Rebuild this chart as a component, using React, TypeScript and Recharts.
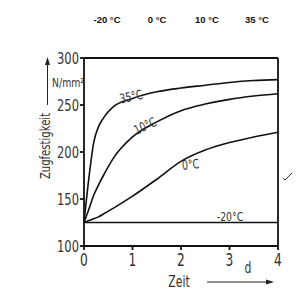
import React from "react";
import { LineChart, Line, XAxis, YAxis, ReferenceLine } from "recharts";

const zeit = [0, 0.1, 0.2, 0.3, 0.4, 0.6, 1, 1.5, 2, 2.5, 3, 3.5, 4];
const t35 = [125, 172, 210, 227, 236, 248, 257, 264, 268, 271, 274, 276, 277];
const t10 = [125, 139, 154, 165, 175, 193, 216, 232, 244, 251, 256, 259.5, 262];
const t0 = [125, 127, 129, 131, 134, 140, 153, 171, 190, 202, 210, 216, 221];
const tMinus20 = [125, 125, 125, 125, 125, 125, 125, 125, 125, 125, 125, 125, 125];

const yTicks = [100, 150, 200, 250, 300];
const xTicks = [0, 1, 2, 3, 4];
const topLabels = ["-20 °C", "0 °C", "10 °C", "35 °C"];

const data = zeit.map((t, i) => ({
  t,
  c35: t35[i],
  c10: t10[i],
  c0: t0[i],
  cm20: tMinus20[i],
}));

const font = "'DejaVu Sans', sans-serif";

// squeezed text, the scan uses a condensed typeface
function Narrow({ x, y, size, anchor = "start", rotate = 0, children }: any) {
  return (
    <text
      transform={`translate(${x} ${y}) rotate(${rotate}) scale(0.72 1)`}
      textAnchor={anchor}
      fontSize={size}
      fontFamily={font}
      fill="#333"
    >
      {children}
    </text>
  );
}

const XTick = ({ x, y, payload }: any) => (
  <Narrow x={x} y={y + 15} size={17} anchor="middle">{payload.value}</Narrow>
);

const YTick = ({ x, y, payload }: any) => (
  <Narrow x={x} y={y + 6} size={16} anchor="end">{payload.value}</Narrow>
);

export default function App() {
  return (
    <div style={{ position: "absolute", left: 0, top: 0, width: 298, height: 290, background: "#fff" }}>
      <LineChart
        width={298}
        height={290}
        data={data}
        margin={{ top: 58, right: 20, bottom: 0, left: 0 }}
      >
        <XAxis
          dataKey="t"
          type="number"
          domain={[0, 4]}
          ticks={xTicks}
          stroke="#111"
          strokeWidth={1.8}
          tickSize={4}
          tickMargin={1}
          height={44}
          tick={<XTick />}
        />
        <YAxis
          type="number"
          domain={[100, 300]}
          ticks={yTicks}
          stroke="#111"
          strokeWidth={1.8}
          tickSize={4}
          tickMargin={1}
          width={84}
          tick={<YTick />}
        />
        <ReferenceLine y={300} stroke="#111" strokeWidth={1.8} />
        <ReferenceLine x={4} stroke="#111" strokeWidth={1.8} />
        <Line dataKey="cm20" type="monotone" stroke="#111" strokeWidth={1.6} dot={false} isAnimationActive={false} />
        <Line dataKey="c0" type="monotone" stroke="#111" strokeWidth={1.6} dot={false} isAnimationActive={false} />
        <Line dataKey="c10" type="monotone" stroke="#111" strokeWidth={1.6} dot={false} isAnimationActive={false} />
        <Line dataKey="c35" type="monotone" stroke="#111" strokeWidth={1.6} dot={false} isAnimationActive={false} />
      </LineChart>
      <svg width={298} height={290} style={{ position: "absolute", left: 0, top: 0, pointerEvents: "none" }}>
        {topLabels.map((s, i) => (
          <text
            key={s}
            x={[107, 157, 207, 257][i]}
            y={23}
            textAnchor="middle"
            fontSize={9.5}
            fontWeight="bold"
            fontFamily="'Liberation Sans', Arial, sans-serif"
            fill="#111"
          >
            {s}
          </text>
        ))}
        <Narrow x={132} y={101} size={13} anchor="middle" rotate={-12}>35°C</Narrow>
        <Narrow x={147} y={130} size={13} anchor="middle" rotate={-25}>10°C</Narrow>
        <Narrow x={191} y={169} size={13} anchor="middle" rotate={-6}>0°C</Narrow>
        <Narrow x={230} y={221} size={13} anchor="middle">-20°C</Narrow>
        <Narrow x={50} y={146} size={14} anchor="middle" rotate={-90}>Zugfestigkeit</Narrow>
        <line x1={47.5} y1={105} x2={47.5} y2={64} stroke="#222" strokeWidth={1} />
        <path d="M47.5 57 L45 65 L50 65 Z" fill="#222" />
        <Narrow x={52} y={87} size={13}>N/mm²</Narrow>
        <Narrow x={179} y={287} size={15} anchor="middle">Zeit</Narrow>
        <Narrow x={248} y={273} size={15} anchor="middle">d</Narrow>
        <line x1={207} y1={282} x2={266} y2={282} stroke="#222" strokeWidth={1} />
        <path d="M274 282 L266 279.5 L266 284.5 Z" fill="#222" />
        <path d="M283 178 L285 180 L292 173" stroke="#333" strokeWidth={1} fill="none" />
      </svg>
    </div>
  );
}
